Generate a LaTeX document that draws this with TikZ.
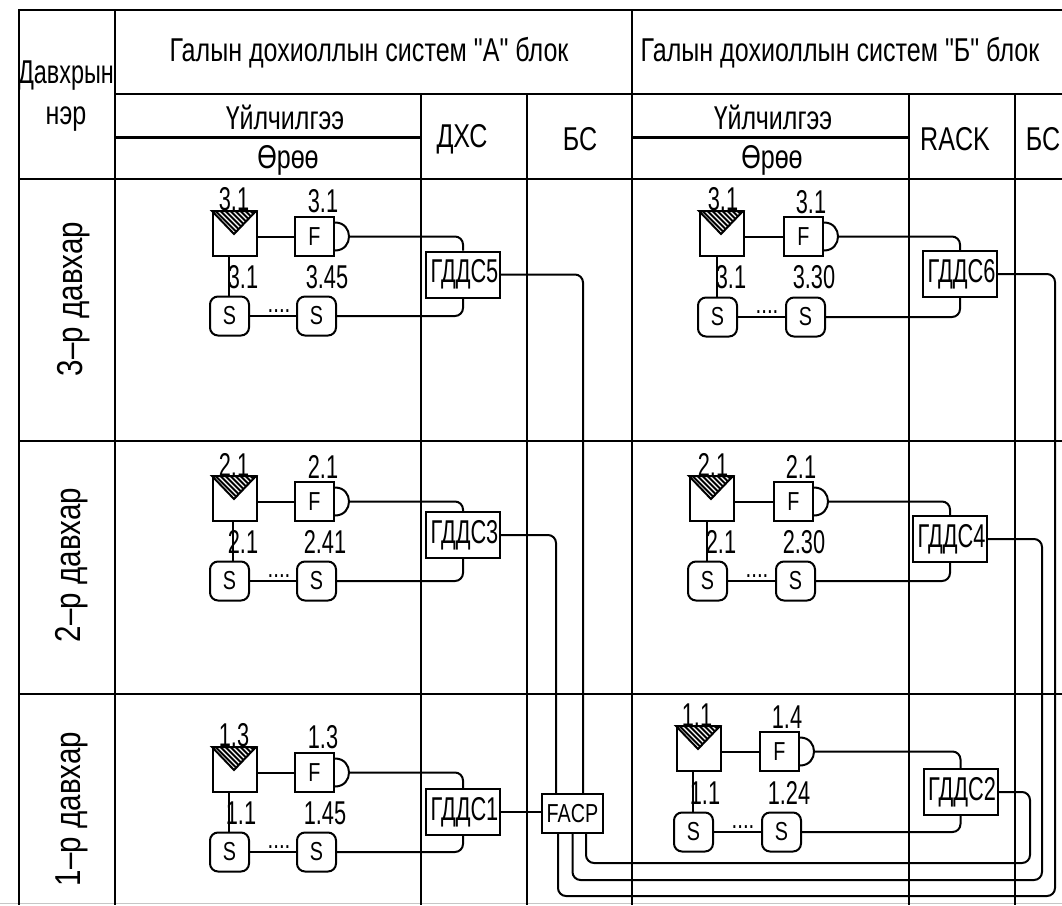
\documentclass[tikz,border=0pt]{standalone}
\usepackage{fontspec}
\setmainfont{Liberation Sans}
\newfontfamily\cad[FakeStretch=0.76]{Liberation Sans}
\newfontfamily\cadm[FakeStretch=0.71]{Liberation Sans}
\newfontfamily\cadn[FakeStretch=0.66]{Liberation Sans}
\newfontfamily\cadw[FakeStretch=0.82]{Liberation Sans}
\usetikzlibrary{calc}
\tikzset{
  x=1pt,y=-1pt,
  tablerule/.style={line width=2pt,black},
  tablethick/.style={line width=3pt,black},
  wire/.style={line width=2pt,black},
  bendwire/.style={wire,rounded corners=8pt},
  txt/.style={inner sep=0pt,font=\cad\fontsize{33}{33}\selectfont},
  rowtxt/.style={inner sep=0pt,rotate=90,font=\cadw\fontsize{36}{36}\selectfont},
  lab/.style={inner sep=0pt,font=\cadn\fontsize{33}{33}\selectfont},
  detbox/.style={draw,line width=2pt,anchor=north west,minimum width=44pt,minimum height=44pt,inner sep=0pt},
  gatebox/.style={draw,line width=2pt,anchor=north west,minimum width=39pt,minimum height=39pt,inner sep=0pt,font=\cad\fontsize{26}{26}\selectfont},
  sensbox/.style={draw,line width=2pt,minimum width=39pt,minimum height=39pt,inner sep=0pt,rounded corners=8pt,font=\cad\fontsize{26}{26}\selectfont},
  gddsbox/.style={draw,line width=2pt,minimum width=74pt,minimum height=46pt,inner sep=0pt,font=\cadn\fontsize{33}{33}\selectfont},
  facpbox/.style={draw,line width=2pt,minimum width=61pt,minimum height=39pt,inner sep=0pt,font=\cad\fontsize{26}{26}\selectfont},
  ptsdots/.style={inner sep=0pt,anchor=base,font=\cad\fontsize{27}{27}\selectfont},
}
% name, detX, detY, fX, s1X, s2X, sCY, downX
\newcommand{\fireunit}[8]{%
  \node[detbox] (#1d) at (#2,#3) {};
  \begin{scope}
    \clip (#2,#3) -- ({#2+44},#3) -- ({#2+22},{#3+23}) -- cycle;
    \fill[black] (#2,#3) rectangle ({#2+44},{#3+23});
    \foreach \k in {-24,-19,...,44}
      \draw[white,line width=1.2pt] ({#2+\k},#3) -- ({#2+\k+23},{#3+23});
  \end{scope}
  \draw[line width=2pt] (#2,#3) -- ({#2+22},{#3+23}) -- ({#2+44},#3) -- cycle;
  \node[gatebox] (#1f) at (#4,{#3+5}) {F};
  \draw[line width=2pt] ([yshift=14pt]#1f.east) .. controls +(18.7,0) and +(18.7,0) .. ([yshift=-14pt]#1f.east);
  \coordinate (#1a) at ([xshift=14pt]#1f.east);
  \node[sensbox] (#1s) at ({#5+19.5},#7) {S};
  \node[sensbox] (#1t) at ({#6+19.5},#7) {S};
  \coordinate (#1n) at (#8,#7);
  \draw[wire] (#1f.west -| #1d.east) -- (#1f.west);
  \draw[wire] (#1d.south -| #1n) -- (#1s.north -| #1n);
  \draw[wire] (#1s) -- (#1t);
  \node[ptsdots] at ({#5+69},{#7-4}) {....};
}
\begin{document}
\begin{tikzpicture}
\useasboundingbox (0,0) rectangle (1062,905);
\fill[white] (0,0) rectangle (1062,905);
% table
\draw[gray!45,line width=1pt] (0,903.5) -- (1062,903.5);
\draw[tablerule] (19,9.5) -- (1062,9.5);
\draw[tablerule] (115,94) -- (1062,94);
\draw[tablethick] (115,137) -- (420,137);
\draw[tablethick] (632,137) -- (908.5,137);
\foreach \r in {179,441,694} \draw[tablerule] (19,\r) -- (1062,\r);
\draw[tablerule] (19,9) -- (19,905);
\draw[tablerule] (115,9) -- (115,905);
\foreach \c in {420.5,527,908.5,1015} \draw[tablerule] (\c,94) -- (\c,905);
\draw[tablerule] (632,9) -- (632,905);
% header text
\node[txt] (h1) at (369,53) {Галын дохиоллын систем "А" блок};
\node[txt] (h2) at (840,53) {Галын дохиоллын систем "Б" блок};
\node[txt,font=\cadm\fontsize{33}{33}\selectfont] (h3) at (66,76) {Давхрын};
\node[txt] (h4) at (66,119) {нэр};
\node[txt] (h5) at (285,117) {Үйлчилгээ};
\node[txt] (h6) at (288,160) {Өрөө};
\node[txt] (h7) at (462,139) {ДХС};
\node[txt] (h8) at (580,139) {БС};
\node[txt] (h9) at (773,117) {Үйлчилгээ};
\node[txt] (h10) at (772,160) {Өрөө};
\node[txt] (h11) at (955,139) {RACK};
\node[txt] (h12) at (1043,139) {БС};
\node[rowtxt] (r3) at (74,299) {3–р давхар};
\node[rowtxt] (r2) at (72,565) {2–р давхар};
\node[rowtxt] (r1) at (72,809) {1–р давхар};
% units
\fireunit{A}{212}{211}{294}{210}{297}{316}{229}
\fireunit{B}{212}{476}{294}{210}{297}{581}{233}
\fireunit{C}{212}{747}{294}{210}{297}{852}{229}
\fireunit{D}{699}{211}{783}{698}{786}{317}{717}
\fireunit{E}{689}{476}{773}{688}{776}{581}{707}
\fireunit{G}{676}{726}{759}{674}{762}{832}{693}
% labels
\node[lab] (la1) at (234,199) {3.1};
\node[lab] (la2) at (323,201) {3.1};
\node[lab] (la3) at (243,277) {3.1};
\node[lab] (la4) at (327,277) {3.45};
\node[lab] (lb1) at (234,465) {2.1};
\node[lab] (lb2) at (323,467) {2.1};
\node[lab] (lb3) at (243,542) {2.1};
\node[lab] (lb4) at (325,542) {2.41};
\node[lab] (lc1) at (234,735) {1.3};
\node[lab] (lc2) at (323,737) {1.3};
\node[lab] (lc3) at (241,813) {1.1};
\node[lab] (lc4) at (325,813) {1.45};
\node[lab] (ld1) at (723,199) {3.1};
\node[lab] (ld2) at (811,202) {3.1};
\node[lab] (ld3) at (731,277) {3.1};
\node[lab] (ld4) at (814,277) {3.30};
\node[lab] (le1) at (713,465) {2.1};
\node[lab] (le2) at (801,467) {2.1};
\node[lab] (le3) at (721,542) {2.1};
\node[lab] (le4) at (804,542) {2.30};
\node[lab] (lg1) at (697,715) {1.1};
\node[lab] (lg2) at (787,717) {1.4};
\node[lab] (lg3) at (705,793) {1.1};
\node[lab] (lg4) at (789,793) {1.24};
% distribution boxes
\node[gddsbox] (g5) at (463,274.5) {\hspace*{3pt}ГДДС5};
\node[gddsbox] (g6) at (960,274) {\hspace*{3pt}ГДДС6};
\node[gddsbox] (g3) at (463,535) {\hspace*{3pt}ГДДС3};
\node[gddsbox] (g4) at (950,539) {\hspace*{3pt}ГДДС4};
\node[gddsbox] (g1) at (463,812) {\hspace*{3pt}ГДДС1};
\node[gddsbox] (g2) at (960.5,792) {\hspace*{3pt}ГДДС2};
\node[facpbox] (fa) at (572.5,813.5) {FACP};
% wires to boxes
\foreach \u/\g in {A/g5,B/g3,C/g1,D/g6,E/g4,G/g2}{
  \draw[bendwire] (\u a) -| (\g);
  \draw[bendwire] (\u t) -| (\g);
}
\draw[wire] (g1.east) -- (g1.east -| fa.west);
\draw[bendwire] (g5.east) -| ([xshift=10.5pt]fa.north);
\draw[bendwire] (g3.east) -| ([xshift=-16.5pt]fa.north);
\coordinate (c2) at (1030,863);
\coordinate (c4) at (1042,880);
\coordinate (c6) at (1055,896);
\draw[bendwire] ([xshift=13.5pt]fa.south) |- (c2) |- (g2.east);
\draw[bendwire] (fa.south) |- (c4) |- (g4.east);
\draw[bendwire] ([xshift=-14.5pt]fa.south) |- (c6) |- (g6.east);
\end{tikzpicture}
\end{document}
